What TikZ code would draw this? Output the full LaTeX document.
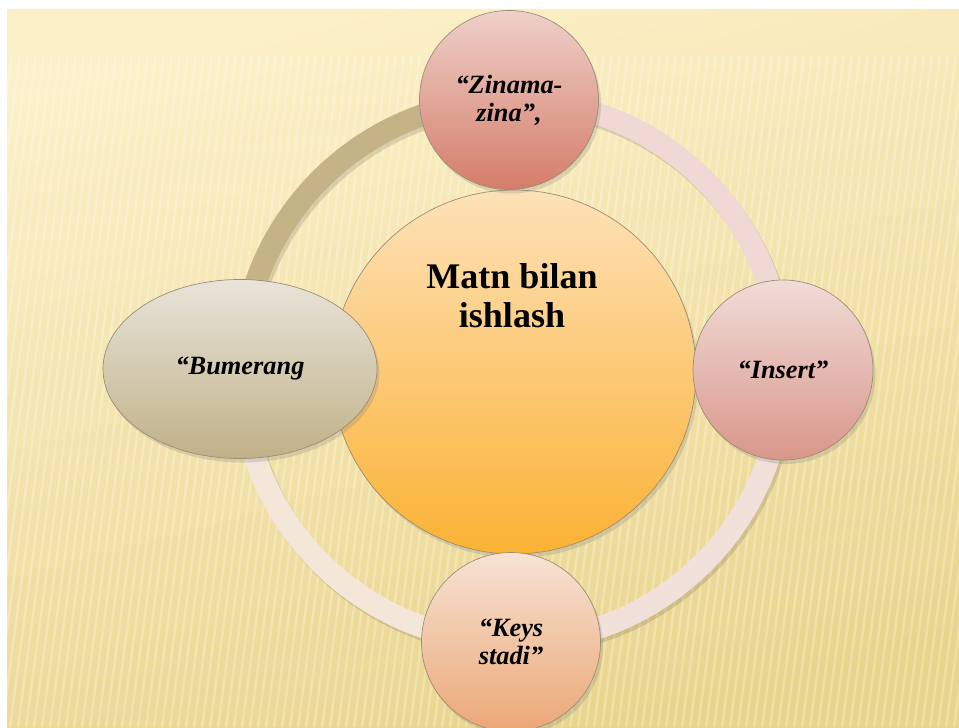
\documentclass[tikz,border=0pt]{standalone}
\usepackage{fontspec}
\setmainfont{Liberation Serif}
\usetikzlibrary{shapes.geometric,shadows}
\definecolor{bglight}{HTML}{FCF0C8}
\definecolor{bgdark}{HTML}{E9D48C}
\definecolor{edgegray}{HTML}{9C8E72}
\definecolor{hubtop}{HTML}{FDE1B8}
\definecolor{hubbot}{HTML}{FBB234}
\definecolor{zinatop}{HTML}{EFD0CA}
\definecolor{zinabot}{HTML}{D47D69}
\definecolor{instop}{HTML}{F0DCD8}
\definecolor{insbot}{HTML}{D9968A}
\definecolor{keystop}{HTML}{F7E3D4}
\definecolor{keysbot}{HTML}{EBA776}
\definecolor{bumtop}{HTML}{E9E4DA}
\definecolor{bumbot}{HTML}{C0B188}
\definecolor{rimolive}{HTML}{C4B387}
\definecolor{rimpink}{HTML}{F0D8D4}
\definecolor{rimrose}{HTML}{F2E0DA}
\definecolor{rimpeach}{HTML}{F5E6DA}
\tikzstyle{hub}=[
        circle,
        draw=edgegray,
        line width=0.4pt,
        minimum size=7.28cm,
        top color=hubtop,
        bottom color=hubbot,
        drop shadow={shadow xshift=0.05cm,shadow yshift=-0.08cm,opacity=0.25}
]
\tikzstyle{spoke}=[
        circle,
        draw=edgegray,
        line width=0.4pt,
        minimum size=3.58cm,
        align=center,
        font=\fontsize{15}{16}\selectfont\bfseries\itshape,
        drop shadow={shadow xshift=0.05cm,shadow yshift=-0.08cm,opacity=0.25}
]
\tikzstyle{rim}=[
        line width=0.44cm
]

\begin{document}
\begin{tikzpicture}
                        \useasboundingbox (0,0) rectangle (19.18,14.54);
                        \fill[white] (0,0) rectangle (19.18,14.54);

                        % background
                        \shade[top color=bglight, bottom color=bgdark, shading angle=15] (0.14,0) rectangle (19.18,14.34);
                        \begin{scope}
                            \clip (0.14,0) rectangle (19.18,13.44);
                            \foreach \x in {-3,-2.84,...,19.4} {
                                \draw[white, opacity=0.25, line width=0.05cm] (\x,0) -- (\x+1.8,13.44);
                            }
                        \end{scope}

                        \coordinate (hub) at (10.24,7.12);

                        % ring
                        \draw[rim, black, opacity=0.12] ([shift={(0.05,-0.07)}]hub) circle (5.42);
                        \draw[rim, rimpink] ([shift={(0:5.42)}]hub) arc[start angle=0, end angle=90, radius=5.42];
                        \draw[rim, rimolive] ([shift={(90:5.42)}]hub) arc[start angle=90, end angle=180, radius=5.42];
                        \draw[rim, rimpeach] ([shift={(180:5.42)}]hub) arc[start angle=180, end angle=270, radius=5.42];
                        \draw[rim, rimrose] ([shift={(270:5.42)}]hub) arc[start angle=270, end angle=360, radius=5.42];

                        \node[hub] (matn) at (10.28,7.10) {};
                        \node[font=\fontsize{20.5}{22}\selectfont\bfseries, align=center] (matntext) at (10.24,8.62) {Matn bilan\\ishlash};

                        \node[spoke, top color=zinatop, bottom color=zinabot] (zinama) at (10.18,12.54) {“Zinama-\\zina”,};
                        \node[spoke, top color=instop, bottom color=insbot, minimum size=3.6cm] (insert) at (15.66,7.14) {“Insert”};
                        \node[spoke, top color=keystop, bottom color=keysbot] (keys) at (10.22,1.70) {“Keys\\stadi”};
                        \node[spoke, ellipse, minimum width=5.48cm, minimum height=3.58cm, top color=bumtop, bottom color=bumbot] (bumerang) at (4.80,7.16) {“Bumerang};

                    \end{tikzpicture}
\end{document}
